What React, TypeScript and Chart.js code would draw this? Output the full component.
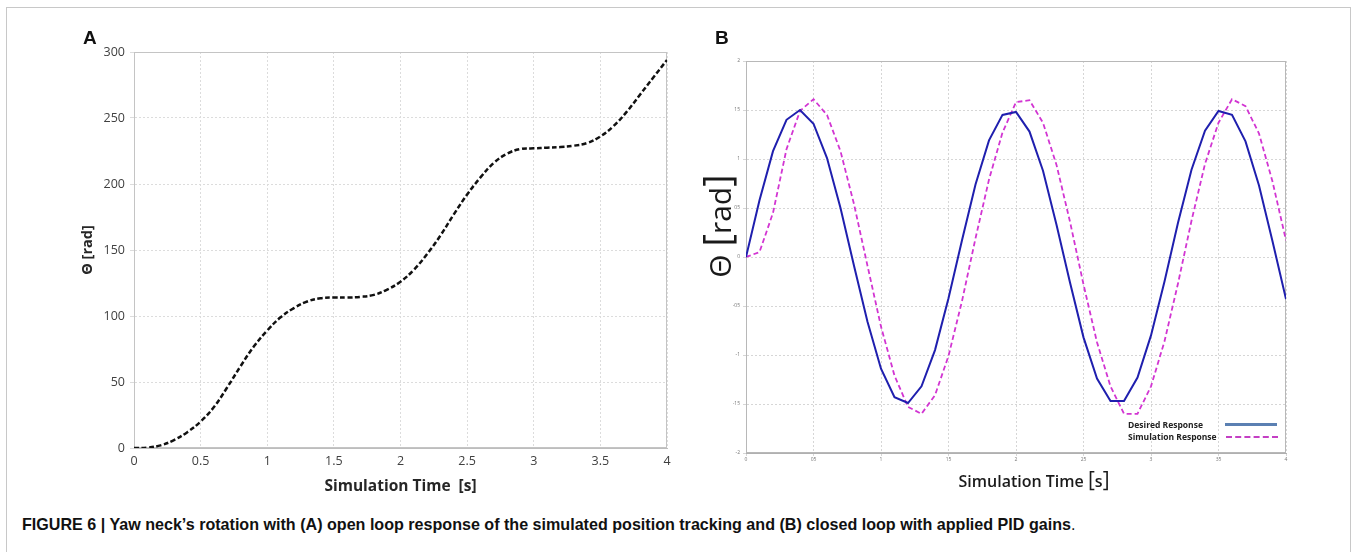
import React, { useEffect, useRef } from 'react';
import { Chart, registerables } from 'chart.js';

Chart.register(...registerables);

// ---------- Panel A data (open loop) ----------
const timeA = [0, 0.1, 0.2, 0.3, 0.4, 0.5, 0.6, 0.7, 0.8, 0.9, 1.0, 1.1, 1.2, 1.3, 1.4, 1.5, 1.6, 1.7, 1.8, 1.9, 2.0,
  2.1, 2.2, 2.3, 2.4, 2.5, 2.6, 2.7, 2.8, 2.9, 3.0, 3.1, 3.2, 3.3, 3.4, 3.5, 3.6, 3.7, 3.8, 3.9, 4.0];
const thetaA = [0, 0.3, 2, 6, 12, 20, 31, 46, 62, 77, 89, 99, 106, 111, 113.5, 114, 114, 114.5, 116, 120, 126,
  135, 147, 161, 177, 192, 205, 216, 223, 226.5, 227, 227.5, 228, 229, 231, 236, 244, 255, 268, 281, 294];
const aXTickLabels = ['0', '0.5', '1', '1.5', '2', '2.5', '3', '3.5', '4'];
const aYTickLabels = ['0', '50', '100', '150', '200', '250', '300'];

// ---------- Panel B data (closed loop) ----------
const timeB = [0, 0.1, 0.2, 0.3, 0.4, 0.5, 0.6, 0.7, 0.8, 0.9, 1.0, 1.1, 1.2, 1.3, 1.4, 1.5, 1.6, 1.7, 1.8, 1.9, 2.0,
  2.1, 2.2, 2.3, 2.4, 2.5, 2.6, 2.7, 2.8, 2.9, 3.0, 3.1, 3.2, 3.3, 3.4, 3.5, 3.6, 3.7, 3.8, 3.9, 4.0];
const desiredB = [0, 0.58, 1.08, 1.40, 1.50, 1.36, 1.01, 0.50, -0.09, -0.66, -1.14, -1.43, -1.49, -1.32, -0.95, -0.42,
  0.17, 0.74, 1.19, 1.45, 1.48, 1.28, 0.88, 0.33, -0.26, -0.82, -1.24, -1.47, -1.47, -1.23, -0.80, -0.25, 0.35,
  0.89, 1.29, 1.49, 1.45, 1.18, 0.73, 0.16, -0.43];
const simulationB = [0, 0.05, 0.45, 1.10, 1.49, 1.61, 1.45, 1.08, 0.54, -0.09, -0.71, -1.21, -1.53, -1.60, -1.41, -1.01,
  -0.45, 0.19, 0.79, 1.27, 1.58, 1.60, 1.37, 0.94, 0.36, -0.28, -0.87, -1.32, -1.60, -1.60, -1.32, -0.86, -0.27,
  0.37, 0.95, 1.37, 1.61, 1.54, 1.26, 0.77, 0.17];
const bXTickLabels = ['0', '05', '1', '15', '2', '25', '3', '35', '4'];
const bYTickLabels = ['-2', '-15', '-1', '-05', '0', '05', '1', '15', '2'];

const seriesNames = ['Desired Response', 'Simulation Response'];

const framePlugin = {
  id: 'frame',
  beforeDatasetsDraw(chart: any, _args: any, opts: any) {
    const { ctx, chartArea } = chart;
    ctx.save();
    ctx.strokeStyle = opts.color || '#bdbdbd';
    ctx.lineWidth = 1;
    ctx.strokeRect(chartArea.left + 0.5, chartArea.top + 0.5, chartArea.right - chartArea.left - 1, chartArea.bottom - chartArea.top - 1);
    ctx.restore();
  },
};

function PanelA() {
  const ref = useRef<HTMLCanvasElement | null>(null);
  useEffect(() => {
    if (!ref.current) return;
    const chart = new Chart(ref.current, {
      type: 'line',
      data: {
        datasets: [{
          label: 'Open loop',
          data: timeA.map((t, i) => ({ x: t, y: thetaA[i] })),
          borderColor: '#111111',
          borderWidth: 2.5,
          borderDash: [5, 2.5],
          pointRadius: 0,
          tension: 0.4,
          fill: false,
        }],
      },
      options: {
        animation: false,
        responsive: false,
        devicePixelRatio: 1,
        layout: { padding: { top: 52, right: 33, left: 0, bottom: 0 } },
        plugins: { legend: { display: false }, tooltip: { enabled: false }, frame: { color: '#c4c4c4' } } as any,
        scales: {
          x: {
            type: 'linear', min: 0, max: 4,
            afterFit: (s: any) => { s.height = 52; },
            ticks: {
              stepSize: 0.5, autoSkip: false, maxRotation: 0, padding: 6,
              color: '#404040', font: { family: 'Open Sans', size: 12.5 },
              callback: (_v: any, i: number) => aXTickLabels[i],
            },
            grid: { color: '#dcdcdc', drawTicks: false },
            border: { color: '#bdbdbd', dash: [2, 2] },
            title: {
              display: true, text: 'Simulation Time  [s]', color: '#262626',
              font: { family: 'Open Sans', size: 15.5, weight: 'bold' }, padding: { top: 0, bottom: 4 },
            },
          },
          y: {
            type: 'linear', min: 0, max: 300,
            afterFit: (s: any) => { s.width = 134; },
            ticks: {
              stepSize: 50, autoSkip: false, padding: 5,
              color: '#404040', font: { family: 'Open Sans', size: 12.5 },
              callback: (_v: any, i: number) => aYTickLabels[i],
            },
            grid: { color: '#dcdcdc', tickLength: 4 },
            border: { color: '#bdbdbd', dash: [2, 2] },
            title: {
              display: true, text: 'Θ [rad]', color: '#262626',
              font: { family: 'Open Sans', size: 14.5, weight: 'bold' }, padding: { top: 79, bottom: 0 },
            },
          },
        },
      } as any,
      plugins: [framePlugin],
    });
    return () => chart.destroy();
  }, []);
  return <canvas ref={ref} width={700} height={500} style={{ position: 'absolute', left: 0, top: 0, width: 700, height: 500 }} />;
}

function PanelB() {
  const ref = useRef<HTMLCanvasElement | null>(null);
  useEffect(() => {
    if (!ref.current) return;
    const chart = new Chart(ref.current, {
      type: 'line',
      data: {
        datasets: [
          {
            label: seriesNames[0],
            data: timeB.map((t, i) => ({ x: t, y: desiredB[i] })),
            borderColor: '#1f1fae',
            borderWidth: 2,
            pointRadius: 0,
            tension: 0,
            fill: false,
          },
          {
            label: seriesNames[1],
            data: timeB.map((t, i) => ({ x: t, y: simulationB[i] })),
            borderColor: '#d235d2',
            borderWidth: 1.8,
            borderDash: [5, 3],
            pointRadius: 0,
            tension: 0,
            fill: false,
          },
        ],
      },
      options: {
        animation: false,
        responsive: false,
        devicePixelRatio: 1,
        layout: { padding: { top: 61, right: 68, left: 0, bottom: 0 } },
        plugins: { legend: { display: false }, tooltip: { enabled: false }, frame: { color: '#b8b8b8' } } as any,
        scales: {
          x: {
            type: 'linear', min: 0, max: 4,
            afterFit: (s: any) => { s.height = 47; },
            ticks: {
              stepSize: 0.5, autoSkip: false, maxRotation: 0, padding: 1,
              color: '#777777', font: { family: 'Open Sans', size: 5 },
              callback: (_v: any, i: number) => bXTickLabels[i],
            },
            grid: { color: '#d6d6d6', tickLength: 3 },
            border: { color: '#b0b0b0', dash: [2, 2] },
          },
          y: {
            type: 'linear', min: -2, max: 2,
            afterFit: (s: any) => { s.width = 46; },
            ticks: {
              stepSize: 0.5, autoSkip: false, padding: 3,
              color: '#777777', font: { family: 'Open Sans', size: 5 },
              callback: (_v: any, i: number) => bYTickLabels[i],
            },
            grid: { color: '#d6d6d6', tickLength: 3 },
            border: { color: '#b0b0b0', dash: [2, 2] },
          },
        },
      } as any,
      plugins: [framePlugin],
    });
    return () => chart.destroy();
  }, []);
  return <canvas ref={ref} width={654} height={500} style={{ position: 'absolute', left: 700, top: 0, width: 654, height: 500 }} />;
}

export default function App() {
  const legendText: React.CSSProperties = {
    position: 'absolute', left: 1128, fontFamily: 'Open Sans', fontWeight: 'bold', fontSize: 8.5,
    lineHeight: '10px', color: '#222', whiteSpace: 'nowrap',
  };
  return (
    <div style={{ position: 'fixed', left: 0, top: 0, width: 1354, height: 552, overflow: 'hidden', background: '#fff' }}>
      <div style={{ position: 'absolute', left: 6, top: 7, width: 1343, height: 600, border: '1px solid #c8c8c8' }} />
      <PanelA />
      <PanelB />
      <div style={{ position: 'absolute', left: 83, top: 27, fontFamily: 'Liberation Sans, Arial, sans-serif', fontWeight: 'bold', fontSize: 19, lineHeight: '22px', color: '#111' }}>A</div>
      <div style={{ position: 'absolute', left: 715, top: 27, fontFamily: 'Liberation Sans, Arial, sans-serif', fontWeight: 'bold', fontSize: 19, lineHeight: '22px', color: '#111' }}>B</div>
      {/* Panel B axis titles */}
      <div style={{ position: 'absolute', left: 718, top: 226, width: 0, height: 0 }}>
        <div style={{ position: 'absolute', left: 0, top: 0, transform: 'translate(-50%, -50%) rotate(-90deg)', fontFamily: 'Open Sans', fontSize: 30, lineHeight: '36px', color: '#1a1a1a', whiteSpace: 'nowrap' }}>
          Θ <span style={{ fontSize: 38 }}>[</span>rad<span style={{ fontSize: 38 }}>]</span>
        </div>
      </div>
      <div style={{ position: 'absolute', left: 1034, top: 480, width: 0, height: 0 }}>
        <div style={{ position: 'absolute', left: 0, top: 0, transform: 'translate(-50%, -50%)', fontFamily: 'Open Sans', fontWeight: 600, fontSize: 16, lineHeight: '24px', color: '#1a1a1a', whiteSpace: 'nowrap' }}>
          Simulation Time <span style={{ fontSize: 21, fontWeight: 400 }}>[</span>s<span style={{ fontSize: 21, fontWeight: 400 }}>]</span>
        </div>
      </div>
      <div style={{ ...legendText, top: 420 }}>{seriesNames[0]}</div>
      <div style={{ ...legendText, top: 432 }}>{seriesNames[1]}</div>
      <div style={{ position: 'absolute', left: 1225, top: 423, width: 52, height: 0, borderTop: '3px solid #5b80b2' }} />
      <div style={{ position: 'absolute', left: 1226, top: 436, width: 52, height: 0, borderTop: '2px dashed #c43fc4' }} />
      <div style={{ position: 'absolute', left: 22, top: 514, fontFamily: 'Liberation Sans, Arial, sans-serif', fontWeight: 'bold', fontSize: 16.1, lineHeight: '20px', color: '#111', whiteSpace: 'nowrap' }}>
        FIGURE 6 | Yaw neck’s rotation with (A) open loop response of the simulated position tracking and (B) closed loop with applied PID gains<span style={{ fontWeight: 'normal' }}>.</span>
      </div>
    </div>
  );
}
